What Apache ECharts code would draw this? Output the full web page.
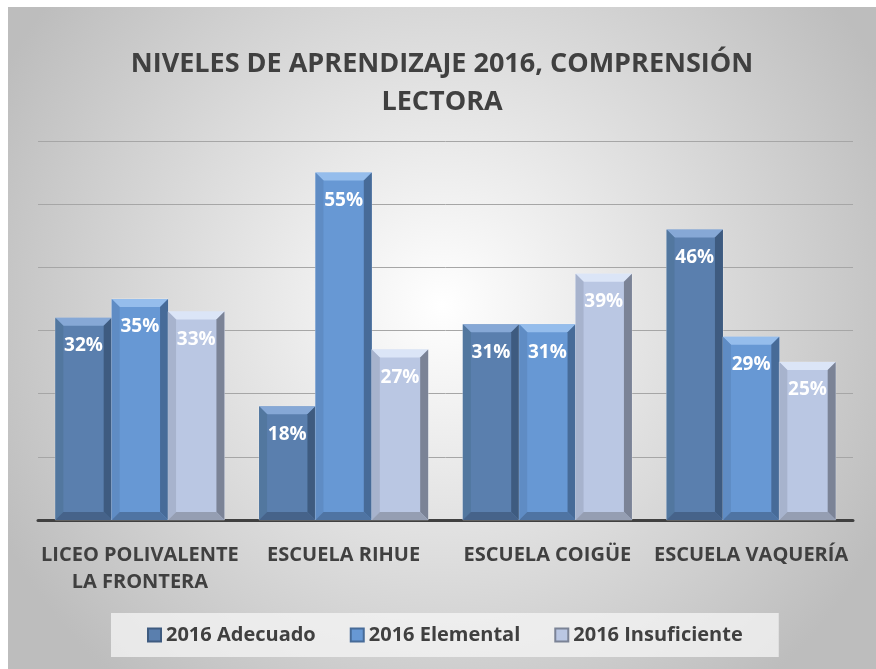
<!DOCTYPE html>
<html>
<head>
<meta charset="utf-8">
<script src="https://cdn.jsdelivr.net/npm/echarts@6/dist/echarts.min.js"></script>
<style>
  html, body { margin: 0; padding: 0; background: #fff; }
  #chart { position: absolute; left: 8px; top: 7px; width: 868px; height: 662px; }
</style>
</head>
<body>
<div id="chart"></div>
<script>
  const categories = ['LICEO POLIVALENTE\nLA FRONTERA', 'ESCUELA RIHUE', 'ESCUELA COIGÜE', 'ESCUELA VAQUERÍA'];
  const seriesNames = ['2016 Adecuado', '2016 Elemental', '2016 Insuficiente'];
  const adecuado = [32, 18, 31, 46];
  const elemental = [35, 55, 31, 29];
  const insuficiente = [33, 27, 39, 25];

  const FONT = '"Open Sans", sans-serif';
  const TEXT = '#404040';

  // face / top / left / right / bottom shades for the bevelled bars
  const palettes = [
    { face: '#5a7fae', top: '#86a8d6', left: '#52779f', right: '#3e5b80', bottom: '#46638a' },
    { face: '#6798d4', top: '#95bdec', left: '#5f8cc4', right: '#476b98', bottom: '#4f74a3' },
    { face: '#bac7e3', top: '#dbe5f7', left: '#a7b3cd', right: '#7b8396', bottom: '#959eb2' }
  ];

  function bevelBar(seriesIndex) {
    const pal = palettes[seriesIndex];
    return function (params, api) {
      const cat = api.value(0);
      const val = api.value(1);
      const base = api.coord([cat, 0]);
      const top = api.coord([cat, val]);
      const band = api.size([1, 0])[0];
      const w = band * 0.83 / 3;
      const x = base[0] - 1.5 * w + seriesIndex * w;
      const y = top[1];
      const h = base[1] - top[1];
      const b = 8;
      const poly = (points, fill) => ({ type: 'polygon', shape: { points }, style: { fill } });
      return {
        type: 'group',
        children: [
          { type: 'rect', shape: { x, y, width: w, height: h }, style: { fill: pal.face, stroke: 'rgba(255,255,255,0.35)', lineWidth: 1 } },
          poly([[x, y], [x + w, y], [x + w - b, y + b], [x + b, y + b]], pal.top),
          poly([[x, y], [x + b, y + b], [x + b, y + h - b], [x, y + h]], pal.left),
          poly([[x + w, y], [x + w - b, y + b], [x + w - b, y + h - b], [x + w, y + h]], pal.right),
          poly([[x, y + h], [x + b, y + h - b], [x + w - b, y + h - b], [x + w, y + h]], pal.bottom),
          {
            type: 'text',
            style: {
              text: val + '%', x: x + w / 2, y: y + 28, align: 'center', verticalAlign: 'middle',
              fill: '#fff', font: 'bold 19px ' + FONT
            }
          }
        ]
      };
    };
  }

  const values = [adecuado, elemental, insuficiente];
  const series = values.map((vals, i) => ({
    name: seriesNames[i],
    type: 'custom',
    renderItem: bevelBar(i),
    itemStyle: { color: palettes[i].face, borderColor: palettes[i].right, borderWidth: 1 },
    encode: { x: 0, y: 1 },
    data: vals.map((v, k) => [k, v])
  }));

  const chart = echarts.init(document.getElementById('chart'));
  chart.setOption({
    backgroundColor: {
      type: 'radial', x: 0.5, y: 0.45, r: 0.75,
      colorStops: [{ offset: 0, color: '#ffffff' }, { offset: 1, color: '#bdbdbd' }]
    },
    title: {
      text: 'NIVELES DE APRENDIZAJE 2016, COMPRENSIÓN\nLECTORA',
      left: 'center', top: 33,
      textStyle: { color: TEXT, fontFamily: FONT, fontWeight: 'bold', fontSize: 27, lineHeight: 38 }
    },
    legend: {
      data: seriesNames,
      left: 103, top: 606,
      padding: [12, 36],
      itemGap: 34,
      itemWidth: 13, itemHeight: 13,
      icon: 'rect',
      backgroundColor: 'rgba(245,245,245,0.75)',
      textStyle: { color: TEXT, fontFamily: FONT, fontWeight: 'bold', fontSize: 20 }
    },
    grid: { left: 30, right: 23, top: 134, bottom: 149 },
    xAxis: {
      type: 'category',
      data: categories,
      axisTick: { show: false },
      axisLine: { lineStyle: { color: '#404040', width: 3 } },
      axisLabel: { color: TEXT, fontFamily: FONT, fontWeight: 'bold', fontSize: 20, lineHeight: 27, margin: 22, interval: 0 }
    },
    yAxis: {
      type: 'value', min: 0, max: 60, interval: 10,
      axisLabel: { show: false },
      axisLine: { show: false },
      splitLine: { lineStyle: { color: '#a6a6a6', width: 1 } }
    },
    series
  });
</script>
</body>
</html>
